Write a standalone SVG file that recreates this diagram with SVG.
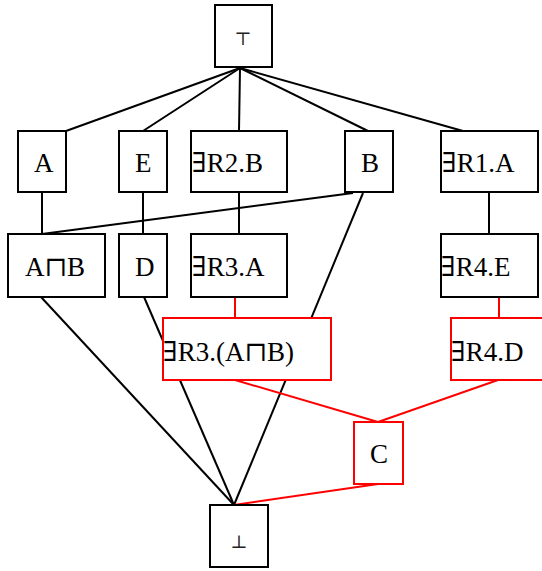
<svg xmlns="http://www.w3.org/2000/svg" width="542" height="571" viewBox="0 0 542 571">
<style>
.n rect{fill:#fff;stroke:#000;stroke-width:2}
.r rect{stroke:#f00}
text{font-family:"Liberation Serif","DejaVu Serif",serif;font-size:27px;fill:#000}
text.s{font-family:"DejaVu Serif",serif;font-size:18px;text-anchor:middle;fill:#222}
.e line{stroke:#000;stroke-width:2}
.e line.red{stroke:#f00}
</style>
<rect width="542" height="571" fill="#fff"/>
<g id="edges" class="e">
<line x1="240" y1="68" x2="66" y2="131"/>
<line x1="240" y1="68" x2="143" y2="131"/>
<line x1="240" y1="68" x2="239" y2="131"/>
<line x1="240" y1="68" x2="368" y2="131"/>
<line x1="240" y1="68" x2="463" y2="131"/>
<line x1="42" y1="192" x2="42" y2="234"/>
<line x1="143" y1="192" x2="143" y2="234"/>
<line x1="239" y1="192" x2="239" y2="234"/>
<line x1="489" y1="192" x2="489" y2="234"/>
<line x1="353" y1="193" x2="42" y2="234"/>
<line x1="363" y1="193" x2="234" y2="505"/>
<line x1="41" y1="297" x2="234" y2="505"/>
<line x1="144" y1="297" x2="234" y2="505"/>
<line class="red" x1="235" y1="297" x2="235" y2="318"/>
<line class="red" x1="499" y1="297" x2="499" y2="318"/>
<line class="red" x1="235" y1="380" x2="378" y2="422"/>
<line class="red" x1="498" y1="380" x2="378" y2="422"/>
<line class="red" x1="378" y1="484" x2="234" y2="505"/>
</g>
<g id="top" class="n"><rect x="215" y="5" width="57" height="62"/><text class="s" x="243" y="45">⊤</text></g>
<g id="A" class="n"><rect x="18" y="131" width="48" height="61"/><text x="34" y="172">A</text></g>
<g id="E" class="n"><rect x="119" y="131" width="48" height="61"/><text x="135" y="172">E</text></g>
<g id="R2B" class="n"><rect x="191" y="131" width="96" height="61"/><text x="192" y="172">∃R2.B</text></g>
<g id="B" class="n"><rect x="345" y="131" width="48" height="61"/><text x="361" y="172">B</text></g>
<g id="R1A" class="n"><rect x="441" y="131" width="97" height="61"/><text x="442" y="172">∃R1.A</text></g>
<g id="AandB" class="n"><rect x="8" y="234" width="97" height="63"/><text x="25" y="276">A⊓B</text></g>
<g id="D" class="n"><rect x="119" y="234" width="48" height="63"/><text x="135" y="276">D</text></g>
<g id="R3A" class="n"><rect x="191" y="234" width="96" height="63"/><text x="192" y="276">∃R3.A</text></g>
<g id="R4E" class="n"><rect x="441" y="234" width="97" height="63"/><text x="441" y="276">∃R4.E</text></g>
<g id="R3AB" class="n r"><rect x="163" y="318" width="168" height="62"/><text x="163" y="361">∃R3.(A⊓B)</text></g>
<g id="R4D" class="n r"><rect x="451" y="318" width="97" height="62"/><text x="451" y="361">∃R4.D</text></g>
<g id="C" class="n r"><rect x="354" y="422" width="49" height="62"/><text x="370" y="463">C</text></g>
<g id="bottom" class="n"><rect x="210" y="505" width="58" height="62"/><text class="s" x="239" y="548">⊥</text></g>
</svg>
